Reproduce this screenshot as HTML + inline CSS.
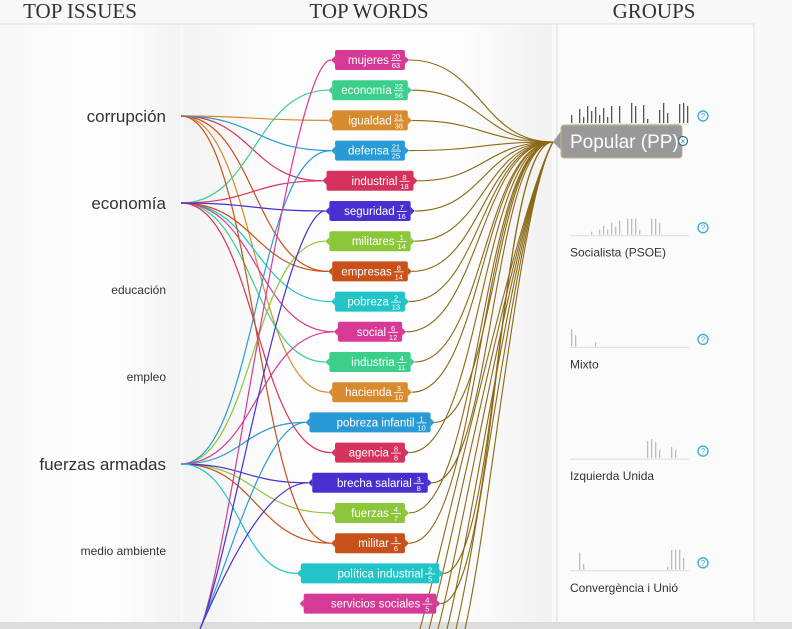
<!DOCTYPE html>
<html><head><meta charset="utf-8">
<style>
body{margin:0;width:792px;height:629px;overflow:hidden;background:#f8f8f8;font-family:"Liberation Sans",sans-serif;}
svg{display:block}
</style></head>
<body>
<svg id="c" width="792" height="629">
<defs>
<linearGradient id="gl" x1="0" x2="1"><stop offset="0" stop-color="#f7f7f7"/><stop offset="0.6" stop-color="#ffffff"/><stop offset="1" stop-color="#f3f3f3"/></linearGradient>
<linearGradient id="gm" x1="0" x2="1"><stop offset="0" stop-color="#f3f3f3"/><stop offset="0.25" stop-color="#fdfdfd"/><stop offset="0.75" stop-color="#fdfdfd"/><stop offset="1" stop-color="#f1f1f1"/></linearGradient>
</defs>
<rect x="0" y="24" width="180" height="600" fill="url(#gl)"/>
<rect x="184" y="24" width="368" height="600" fill="url(#gm)"/>
<rect x="557" y="24" width="197" height="600" fill="#fbfbfb" stroke="#dddddd"/>
<line x1="0" y1="24" x2="754" y2="24" stroke="#dddddd"/>
<rect x="0" y="622" width="792" height="7" fill="#dcdcdc"/>
<g font-family="Liberation Serif, serif" font-size="21" fill="#333" text-anchor="middle">
<text x="80" y="18">TOP ISSUES</text>
<text x="369" y="18">TOP WORDS</text>
<text x="654" y="18">GROUPS</text>
</g>
<g id="links"></g><g id="issues"></g><g id="words"></g><g id="groups"></g>
</svg>
<script>
const issues=["corrupción","economía","educación","empleo","fuerzas armadas","medio ambiente"];
const issueBig=[1,1,0,0,1,0];
const words=["mujeres","economía","igualdad","defensa","industrial","seguridad","militares","empresas","pobreza","social","industria","hacienda","pobreza infantil","agencia","brecha salarial","fuerzas","militar","política industrial","servicios sociales"];
const numer=[20,22,21,21,8,7,1,8,2,6,4,3,1,8,3,4,1,2,4];
const denom=[63,56,38,25,18,16,14,14,13,12,11,10,10,8,8,7,6,5,5];
const colors=["#d63a96","#3ccf8c","#d88a2e","#2a9ad6","#d6325e","#4a2fd0","#8cc63a","#c8501a","#22c4c8","#d63a96","#3ccf8c","#d88a2e","#2a9ad6","#d6325e","#4a2fd0","#8cc63a","#c8501a","#22c4c8","#d63a96"];
const linkIssue=[0,0,0,0,0,1,1,1,1,1,1,1,4,4,4,4,4,4,4,0,1,4];
const linkWord=[2,4,7,11,3,1,4,8,10,7,13,9,6,15,16,14,3,12,9,16,5,17];
const groups=["Popular (PP)","Socialista (PSOE)","Mixto","Izquierda Unida","Convergència i Unió"];
const sparkPP=[8,0,14,6,17,12,16,8,15,6,17,0,17,0,0,20,17,0,18,4,0,0,13,20,10,0,0,19,20,17];
const sparkPSOE=[0,0,0,0,0,3,0,5,9,5,12,8,14,0,16,16,16,5,0,0,16,16,12,0,0,0,0,0,0,0];
const sparkMix=[17,11,0,0,0,0,4,0,0,0,0,0,0,0,0,0,0,0,0,0,0,0,0,0,0,0,0,0,0,0];
const sparkIU=[0,0,0,0,0,0,0,0,0,0,0,0,0,0,0,0,0,0,0,17,19,16,8,0,0,11,8,0,0,0];
const sparkCiU=[0,0,17,6,0,0,0,0,0,0,0,0,0,0,0,0,0,0,0,0,0,0,0,0,3,20,20,20,12,0];
const sparks=[sparkPP,sparkPSOE,sparkMix,sparkIU,sparkCiU];

const NS="http://www.w3.org/2000/svg";
function mk(t,a,p){const e=document.createElementNS(NS,t);for(const k in a)e.setAttribute(k,a[k]);p.appendChild(e);return e;}
const issueY=i=>116+i*87;
const wordY=i=>60+i*30.2;
const groupY=i=>124+i*111.7;
const wordCX=370;
function wordW(i){return words[i].length*5.7+30;}
const gI=document.getElementById('issues');
issues.forEach((s,i)=>{const t=mk('text',{x:166,y:issueY(i)+(issueBig[i]?6:4),'text-anchor':'end','font-size':issueBig[i]?17:12,fill:'#333'},gI);t.textContent=s;

});
const gL=document.getElementById('links');
linkIssue.forEach((ii,k)=>{const w=linkWord[k];const x1=181,y1=issueY(ii),x2=wordCX-wordW(w)/2-4,y2=wordY(w);
const p=mk('path',{d:`M${x1},${y1}C${(x1+x2)/2},${y1} ${(x1+x2)/2},${y2} ${x2},${y2}`,fill:'none',stroke:colors[w],'stroke-width':1.2},gL);

});
[0,5,12,14].forEach(w=>{const x2=wordCX-wordW(w)/2-4,y2=wordY(w);const p=mk('path',{d:`M200,629C230,560 ${x2-40},${y2} ${x2},${y2}`,fill:'none',stroke:colors[w],'stroke-width':1.2},gL);

});
const gx=553,gy=142;
words.forEach((s,i)=>{const x1=wordCX+wordW(i)/2+4,y1=wordY(i);
const p=mk('path',{d:`M${x1},${y1}C${(x1+gx)/2},${y1} ${(x1+gx)/2},${gy} ${gx},${gy}`,fill:'none',stroke:'#8b6914','stroke-width':1.1},gL);

});
for(let k=0;k<6;k++){const p=mk('path',{d:`M${420+k*9},629C${450+k*8},520 ${520},200 ${gx},${gy}`,fill:'none',stroke:'#8b6914','stroke-width':1.1},gL);

}
const gW=document.getElementById('words');
words.forEach((s,i)=>{const w=wordW(i),x=wordCX-w/2,y=wordY(i);
const g=mk('g',{},gW);


mk('rect',{x:x,y:y-10,width:w,height:20,rx:2,fill:colors[i]},g);
mk('path',{d:`M${x},${y-4}L${x-4},${y}L${x},${y+4}Z M${x+w},${y-4}L${x+w+4},${y}L${x+w},${y+4}Z`,fill:colors[i]},g);
const t=mk('text',{x:x+w-16,y:y+4,'text-anchor':'end','font-size':11.5,fill:'#fff'},g);t.textContent=s;
const n=mk('text',{x:x+w-9,y:y-1,'text-anchor':'middle','font-size':7.5,fill:'#fff'},g);n.textContent=numer[i];
mk('line',{x1:x+w-14,y1:y+0.5,x2:x+w-4,y2:y+0.5,stroke:'#fff','stroke-width':0.8},g);
const d=mk('text',{x:x+w-9,y:y+8,'text-anchor':'middle','font-size':7.5,fill:'#fff'},g);d.textContent=denom[i];
});
const gG=document.getElementById('groups');
groups.forEach((s,i)=>{const by=groupY(i);
const g=mk('g',{},gG);


mk('line',{x1:570,y1:by,x2:689,y2:by,stroke:'#ddd'},g);
sparks[i].forEach((h,j)=>{if(h>0){const r=mk('rect',{x:571+j*4,y:by-h-1,width:1.3,height:h,fill:i==0?'#555':'#bbb'},g);

}});
mk('circle',{cx:703,cy:by-8,r:5,fill:'none',stroke:'#3ab0d8','stroke-width':1.4},g);
const q=mk('text',{x:703,y:by-5,'text-anchor':'middle','font-size':8,fill:'#3ab0d8'},g);q.textContent='?';
if(i==0){
 mk('path',{d:'M561,131L553,142L561,150Z',fill:'#999'},g);
 mk('rect',{x:561,y:125,width:121,height:33,rx:3,fill:'#999',stroke:'#c8b48a'},g);
 const t=mk('text',{x:570,y:148,'font-size':19,fill:'#fff'},g);t.textContent=s;
 mk('circle',{cx:683,cy:141,r:4.5,fill:'#fff',stroke:'#2a6f90','stroke-width':1.2},g);
 const x=mk('text',{x:683,y:144,'text-anchor':'middle','font-size':8,fill:'#2a6f90'},g);x.textContent='×';
}else{
 const t=mk('text',{x:570,y:by+21,'font-size':12,fill:'#333'},g);t.textContent=s;
}});
</script>
</body></html>
